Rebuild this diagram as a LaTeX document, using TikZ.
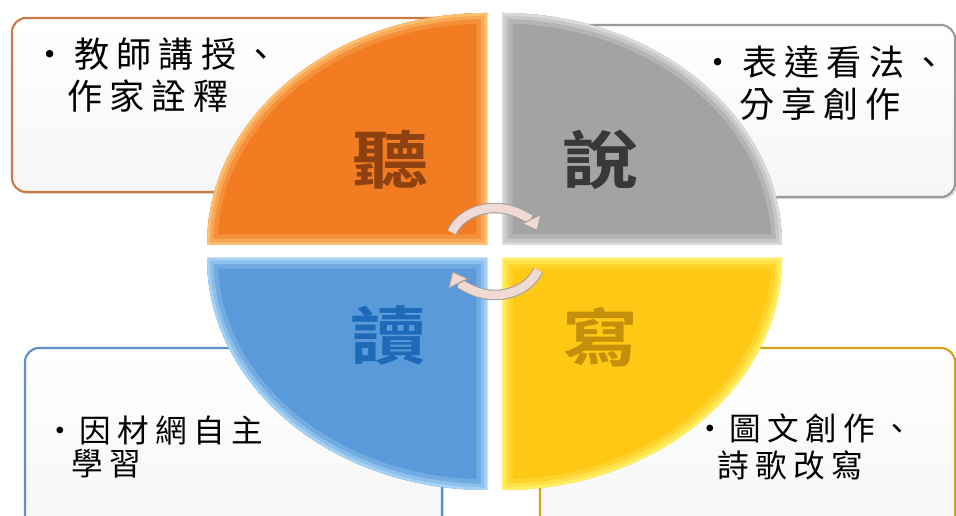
\documentclass[tikz,border=0pt]{standalone}
\usepackage{fontspec}
\newfontfamily\cjk[LetterSpace=20]{Noto Sans CJK TC}
\newfontfamily\cjkbold{Noto Sans CJK TC Bold}
\usetikzlibrary{positioning,arrows.meta,shadows}
\definecolor{orgfill}{HTML}{F27C22}
\definecolor{orglite}{HTML}{FCC070}
\definecolor{orgline}{HTML}{CD7A42}
\definecolor{orgtext}{HTML}{8E4212}
\definecolor{gryfill}{HTML}{A3A3A3}
\definecolor{grylite}{HTML}{DADADA}
\definecolor{gryline}{HTML}{9A9A9A}
\definecolor{grytext}{HTML}{383838}
\definecolor{blufill}{HTML}{5A9ADA}
\definecolor{blulite}{HTML}{A6D3F5}
\definecolor{bluline}{HTML}{5E8FC6}
\definecolor{blutext}{HTML}{1E6AB8}
\definecolor{ylwfill}{HTML}{FFC814}
\definecolor{ylwlite}{HTML}{FFEE66}
\definecolor{ylwline}{HTML}{D6A21E}
\definecolor{ylwtext}{HTML}{C4900C}
\definecolor{cycfill}{HTML}{F1D9D4}
\definecolor{cycline}{HTML}{A0A0A0}

\begin{document}
\begin{tikzpicture}
            [x=0.02cm,y=0.02cm,
            box/.style={rounded corners=8pt,line width=1.2pt,top color=white,bottom color=gray!7,
              drop shadow={opacity=.25,shadow xshift=1.2pt,shadow yshift=-1.2pt}},
            note/.style={font=\cjk\fontsize{20}{24}\selectfont,anchor=west,inner sep=0pt},
            small note/.style={note,font=\cjk\fontsize{18}{21}\selectfont},
            big/.style={font=\cjkbold\fontsize{36}{40}\selectfont,inner sep=0pt},
            cyc/.style={draw=cycline,line width=.6pt,double=cycfill,double distance=4.8pt,
              -{Triangle[length=8pt,width=13pt,fill=cycfill,color=cycline,line width=.6pt]}}]
            \useasboundingbox (0,0) rectangle (956,516);
            \clip (0,0) rectangle (956,516);
            % note boxes
            \draw[box,draw=orgline] (12,324) rectangle (450,498);
            \draw[box,draw=gryline] (530,319) rectangle (955,491);
            \draw[box,draw=bluline] (25,-20) rectangle (442,168);
            \draw[box,draw=ylwline] (540,-20) rectangle (955,168);
            % quarters
            \foreach \cx/\cy/\s/\f/\l in {487/271/180/orgfill/orglite,502/271/90/gryfill/grylite,
              502/258/0/ylwfill/ylwlite,487/258/270/blufill/blulite}{
              \fill[\f] (\cx,\cy) -- ++(\s:280 and 232) arc[start angle=\s,end angle=\s-90,x radius=280,y radius=232] -- cycle;
              \begin{scope}
                \clip (\cx,\cy) -- ++(\s:280 and 232) arc[start angle=\s,end angle=\s-90,x radius=280,y radius=232] -- cycle;
                \draw[\l!30!\f,line width=12pt] (\cx,\cy) -- ++(\s:280 and 232) arc[start angle=\s,end angle=\s-90,x radius=280,y radius=232] -- cycle;
                \draw[\l!65!\f,line width=7pt] (\cx,\cy) -- ++(\s:280 and 232) arc[start angle=\s,end angle=\s-90,x radius=280,y radius=232] -- cycle;
                \draw[\l,line width=3pt] (\cx,\cy) -- ++(\s:280 and 232) arc[start angle=\s,end angle=\s-90,x radius=280,y radius=232] -- cycle;
              \end{scope}
            }
            \node[big,text=orgtext](listen) at (390,356) {\scalebox{1.2}[1]{聽}};
            \node[big,text=grytext](speak) at (600,356) {\scalebox{1.2}[1]{說}};
            \node[big,text=blutext](read) at (388,180) {\scalebox{1.2}[1]{讀}};
            \node[big,text=ylwtext](write) at (600,179) {\scalebox{1.2}[1]{寫}};
            % cycle arrows
            \coordinate (up) at (495,271);
            \coordinate (dn) at (495,259);
            \draw[cyc] ([shift={(160:46 and 37)}]up) arc[start angle=160,end angle=22,x radius=46,y radius=37];
            \draw[cyc] ([shift={(-20:46 and 38)}]dn) arc[start angle=-20,end angle=-158,x radius=46,y radius=38];
            % texts
            \node[note](tl1) at (32,462) {•教師講授、};
            \node[note](tl2) at (67,420) {作家詮釋};
            \node[note](tr1) at (700,454) {•表達看法、};
            \node[note](tr2) at (739,412) {分享創作};
            \node[small note](bl1) at (44,86) {•\hspace{2pt}因材網自主};
            \node[small note](bl2) at (71,52) {學習};
            \node[small note](br1) at (694,88) {•\hspace{2pt}圖文創作、};
            \node[small note](br2) at (717,51) {詩歌改寫};
        \end{tikzpicture}
\end{document}
